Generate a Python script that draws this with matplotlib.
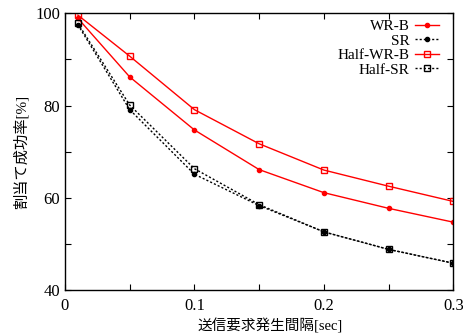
import matplotlib
matplotlib.use("Agg")
import matplotlib.pyplot as plt
from matplotlib.ticker import MultipleLocator

# Request interval [sec] and allocation success rate [%]
interval = [0.01, 0.05, 0.10, 0.15, 0.20, 0.25, 0.30]
wr_b = [98.9, 86.2, 74.7, 66.1, 61.1, 57.7, 54.7]
sr = [97.5, 79.1, 65.1, 58.3, 52.6, 48.8, 45.8]
half_wr_b = [99.6, 90.7, 79.1, 71.7, 66.0, 62.5, 59.2]
half_sr = [97.8, 80.1, 66.3, 58.5, 52.6, 48.8, 45.8]

serif = "Liberation Serif"
mixed = [serif, "Noto Sans CJK JP"]

fig = plt.figure(figsize=(4.64, 3.36), dpi=100)
ax = fig.add_axes([0.140, 0.137, 0.837, 0.8235])

ax.plot(interval, wr_b, color="#ff0000", lw=1.0, ls="-", marker="o",
        ms=3, mfc="#ff0000", mec="#ff0000", label="WR-B")
ax.plot(interval, sr, color="black", lw=1.0, ls=(0, (1.5, 1.5)), marker="o",
        ms=3, mfc="black", mec="black", label="SR")
ax.plot(interval, half_wr_b, color="#ff0000", lw=1.0, ls="-", marker="s",
        ms=4.5, mfc="none", mec="#ff0000", mew=1.0, label="Half-WR-B")
ax.plot(interval, half_sr, color="black", lw=1.0, ls=(0, (1.5, 1.5)), marker="s",
        ms=4.5, mfc="none", mec="black", mew=1.0, label="Half-SR")

ax.set_xlim(0, 0.3)
ax.set_ylim(40, 100)
ax.xaxis.set_minor_locator(MultipleLocator(0.05))
ax.yaxis.set_major_locator(MultipleLocator(20))
ax.yaxis.set_minor_locator(MultipleLocator(10))
ax.set_xticks([0, 0.1, 0.2, 0.3])
ax.set_xticklabels(["0", "0.1", "0.2", "0.3"])
ax.tick_params(which="both", direction="in", top=True, right=True,
               length=4, width=0.8, labelsize=12)
ax.tick_params(axis="x", pad=6)
for lab in ax.get_xticklabels() + ax.get_yticklabels():
    lab.set_family(serif)
for s in ax.spines.values():
    s.set_linewidth(1.0)

ax.set_xlabel("送信要求発生間隔[sec]", family=mixed, fontsize=10.5)
ax.xaxis.set_label_coords(0.527, -0.103)
ax.set_ylabel("割当て成功率[%]", family=mixed, fontsize=11)
ax.yaxis.set_label_coords(-0.094, 0.5)

leg = ax.legend(loc="upper right", frameon=False, markerfirst=False,
                prop={"family": serif, "size": 11}, handlelength=1.6,
                handletextpad=0.33, labelspacing=0.05, borderaxespad=0.0,
                bbox_to_anchor=(0.979, 0.999))
# right-align the entry texts against the line samples
for col in leg._legend_handle_box.get_children():
    col.align = "right"

fig.savefig("out.png", dpi=100)
